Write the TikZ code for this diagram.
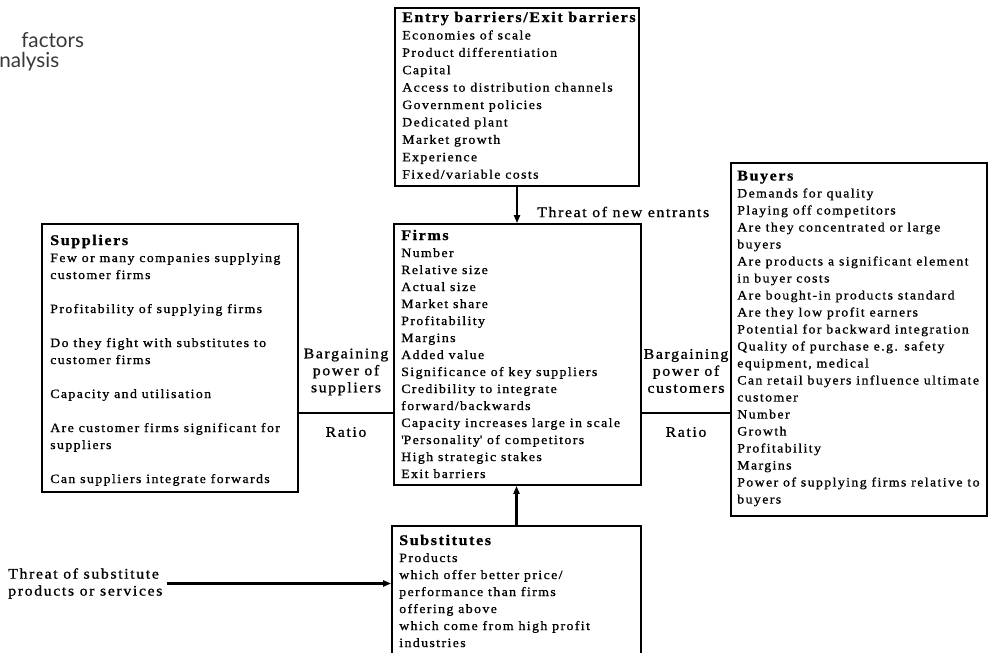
\documentclass[tikz,border=0pt]{standalone}
\usepackage{fontspec}
\setmainfont{Liberation Serif}
\newfontfamily\dfont[LetterSpace=11,FakeStretch=1.08,FakeBold=1.0]{Liberation Serif}
\newfontfamily\capfont{Lato}
\usetikzlibrary{arrows.meta,fit,positioning}

\tikzset{
  box/.style={draw, line width=1.3pt, inner sep=0pt},
  listtext/.style={anchor=north west, inner sep=0pt, align=left,
    font=\dfont\fontsize{9.6}{12.75}\selectfont},
  lbl/.style={inner sep=0pt, font=\dfont\fontsize{11}{12.75}\selectfont},
  captext/.style={anchor=base west, inner sep=0pt, text=black!78,
    font=\capfont\fontsize{15.5}{18}\selectfont},
  arr/.style={line width=1.8pt, -{Triangle[length=6pt,width=4.5pt]}},
  divider/.style={line width=1.8pt},
}
\newcommand{\hd}[1]{{\fontsize{11.1}{12.75}\selectfont\bfseries #1}}
\newcommand{\gap}{\\[12.75pt]}

\begin{document}
\begin{tikzpicture}[x=0.75pt,y=-0.75pt]
\useasboundingbox (0,0) rectangle (992,653);
\clip (0,0) rectangle (992,653);

% fragment of the caption
\node[captext] (cap1) at (21,47) {factors};
\node[captext] (cap2) at (-1,67) {nalysis};

% frames
\node[box, fit={(395,8) (639,186)}] (entry) {};
\node[box, fit={(394,224) (641,485)}] (firms) {};
\node[box, fit={(42,224) (298,492)}] (sup) {};
\node[box, fit={(731,163) (987,516)}] (buyers) {};
\node[box, fit={(392,526) (641,690)}] (subs) {};

% contents of the frames
\node[listtext, font=\dfont\fontsize{9.6}{13.05}\selectfont] (entrytxt) at (402,11.5) {\hd{Entry barriers/Exit barriers}\\
Economies of scale\\
Product differentiation\\
Capital\\
Access to distribution channels\\
Government policies\\
Dedicated plant\\
Market growth\\
Experience\\
Fixed/variable costs};

\node[listtext] (firmstxt) at (401,229.5) {\hd{Firms}\\
Number\\
Relative size\\
Actual size\\
Market share\\
Profitability\\
Margins\\
Added value\\
Significance of key suppliers\\
Credibility to integrate\\
forward/backwards\\
Capacity increases large in scale\\
\textquotesingle Personality\textquotesingle\ of competitors\\
High strategic stakes\\
Exit barriers};

\node[listtext] (suptxt) at (50,234.5) {\hd{Suppliers}\\
Few or many companies supplying\\
customer firms\gap
Profitability of supplying firms\gap
Do they fight with substitutes to\\
customer firms\gap
Capacity and utilisation\gap
Are customer firms significant for\\
suppliers\gap
Can suppliers integrate forwards};

\node[listtext] (buyerstxt) at (737,170.5) {\hd{Buyers}\\
Demands for quality\\
Playing off competitors\\
Are they concentrated or large\\
buyers\\
Are products a significant element\\
in buyer costs\\
Are bought-in products standard\\
Are they low profit earners\\
Potential for backward integration\\
Quality of purchase e.g. safety\\
equipment, medical\\
Can retail buyers influence ultimate\\
customer\\
Number\\
Growth\\
Profitability\\
Margins\\
Power of supplying firms relative to\\
buyers};

\node[listtext] (substxt) at (399,534.5) {\hd{Substitutes}\\
Products\\
which offer better price/\\
performance than firms\\
offering above\\
which come from high profit\\
industries};

% forces acting on the firms
\draw[arr] (entry.south) -- (entry.south |- firms.north);
\node[lbl, anchor=west] (newent) at (537,212) {Threat of new entrants};

\draw[arr] (subs.north) -- (subs.north |- firms.south);
\node[lbl, anchor=west, align=left] (threatsub) at (8,583.5) {Threat of substitute\\products or services};
\draw[arr, line width=2pt] ([xshift=3pt]threatsub.east) -- (threatsub.east -| subs.west);

% bargaining strips
\coordinate (dv) at (0,413);
\node[lbl, align=center] (bps) at (346,372) {Bargaining\\power of\\suppliers};
\node[lbl] (ratioL) at (346,432) {Ratio};
\draw[divider] (sup.east |- dv) -- (firms.west |- dv);

\node[lbl, align=center] (bpc) at (686,371) {Bargaining\\power of\\customers};
\node[lbl] (ratioR) at (686,432) {Ratio};
\draw[divider] (firms.east |- dv) -- (buyers.west |- dv);
\end{tikzpicture}
\end{document}
